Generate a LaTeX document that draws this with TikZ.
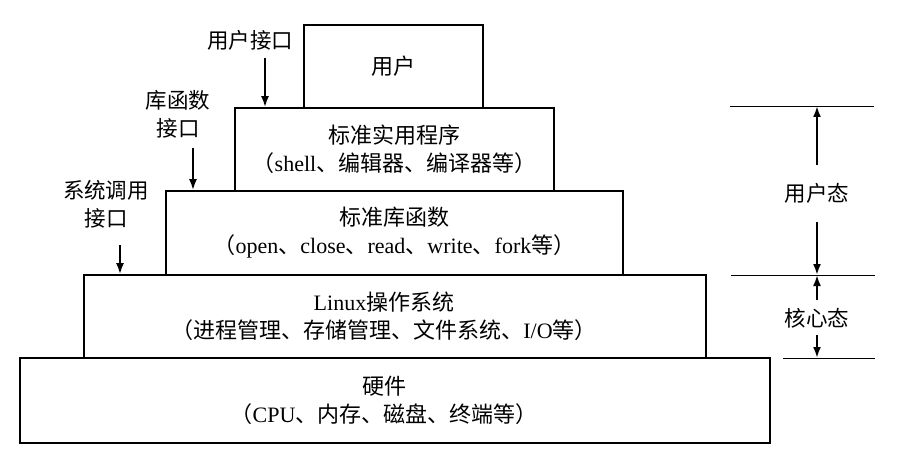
\documentclass[tikz,border=0pt]{standalone}
\usepackage{fontspec}
\setmainfont{Liberation Serif}
\newfontfamily\cjk{Noto Sans CJK SC}
\newcommand\C[1]{{\cjk #1}}
\usetikzlibrary{arrows.meta}
\begin{document}
\begin{tikzpicture}[x=1pt,y=-1pt,
  box/.style={draw, line width=1.8pt, inner sep=0pt, align=center, font=\fontsize{22}{28}\selectfont},
  txt/.style={inner sep=0pt, align=center, font=\fontsize{22}{28}\selectfont},
  lab/.style={align=center, inner sep=0pt, font=\cjk\fontsize{21.5}{28}\selectfont},
  arr/.style={line width=2pt, -{Latex[length=11pt,width=8pt]}},
  thinline/.style={line width=0.9pt}]
\useasboundingbox[fill=white] (0,0) rectangle (898,460);
% boxes
\node[box, minimum width=179pt, minimum height=83pt] (user) at (393.5,66.5) {\C{用户}};
\node[box, minimum width=319pt, minimum height=83pt] (util) at (394.5,149.5)
  {\C{标准实用程序}\\\C{（}shell\C{、编辑器、编译器等）}};
\node[box, minimum width=457pt, minimum height=84pt] (lib) at (394.5,233)
  {\C{标准库函数}\\\C{（}open\C{、}close\C{、}read\C{、}write\C{、}fork\C{等）}};
\node[box, minimum width=622pt, minimum height=83pt] (linux) at (395,316.5) {};
\node[txt] (linuxt) at ([xshift=-11pt]linux.center)
  {Linux\C{操作系统}\\\C{（进程管理、存储管理、文件系统、}I/O\C{等）}};
\node[box, minimum width=750pt, minimum height=85pt] (hw) at (395,400.5) {};
\node[txt] (hwt) at ([xshift=-11pt]hw.center)
  {\C{硬件}\\\C{（}CPU\C{、内存、磁盘、终端等）}};
% left labels
\node[lab] (ui) at (250,40) {用户接口};
\node[lab] (lf) at (178,114) {库函数\\接口};
\node[lab] (sc) at (106,204) {系统调用\\接口};
\coordinate (a1) at (265,58);
\coordinate (a2) at (193,148);
\coordinate (a3) at (120,245);
\draw[arr] (a1) -- (a1 |- util.north);
\draw[arr] (a2) -- (a2 |- lib.north);
\draw[arr] (a3) -- (a3 |- linux.north);
% right side
\coordinate (t1) at (730,106); \coordinate (t2) at (874,106);
\coordinate (m1) at (731,275); \coordinate (m2) at (875,275);
\coordinate (b1) at (783,358); \coordinate (b2) at (875,358);
\draw[thinline] (t1) -- (t2);
\draw[thinline] (m1) -- (m2);
\draw[thinline] (b1) -- (b2);
\node[lab] (us) at (817,193) {用户态};
\node[lab] (ks) at (817,318) {核心态};
\coordinate (u1) at (817,165);
\coordinate (u2) at (817,222);
\coordinate (k1) at (817,300);
\coordinate (k2) at (817,335);
\draw[arr] (u1) -- (u1 |- t1);
\draw[arr] (u2) -- (u2 |- m1);
\draw[arr] (k1) -- (k1 |- m1);
\draw[arr] (k2) -- (k2 |- b1);
\end{tikzpicture}
\end{document}
